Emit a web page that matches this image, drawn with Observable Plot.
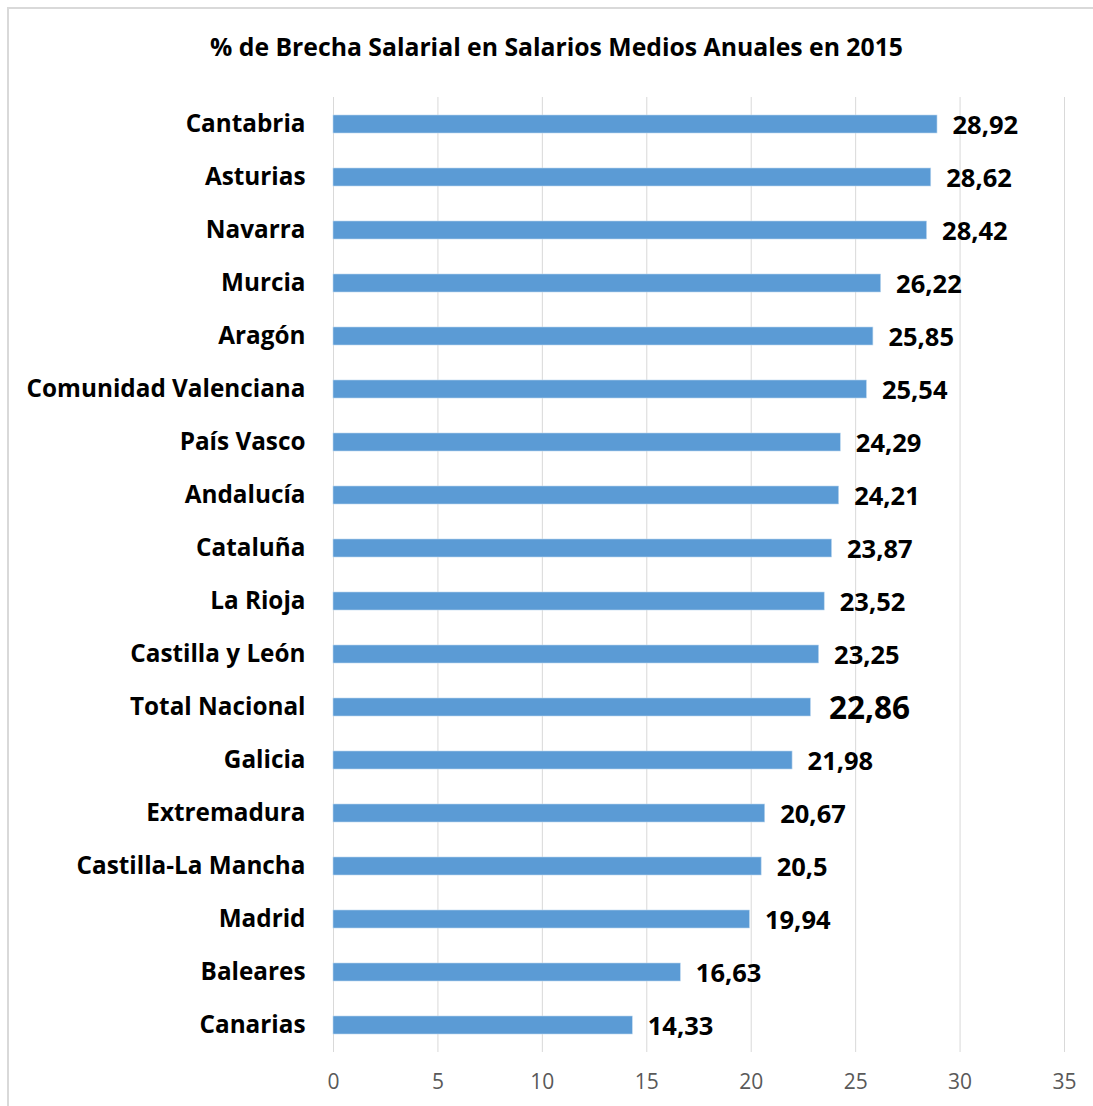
<!DOCTYPE html>
<html>
<head>
<meta charset="utf-8">
<script src="https://cdn.jsdelivr.net/npm/d3@7"></script>
<script src="https://cdn.jsdelivr.net/npm/@observablehq/plot@0.6"></script>
<style>
  html, body { margin: 0; padding: 0; background: #fff; overflow: hidden; }
  #wrap { position: relative; width: 1093px; height: 1106px; overflow: hidden; font-family: "Open Sans", Lato, sans-serif; }
  #frame { position: absolute; left: 7px; top: 7px; width: 1200px; height: 1200px; border: 2px solid #D9D9D9; box-sizing: border-box; }
  #title { position: absolute; left: 0; top: 0; width: 1113px; height: 80px; line-height: 94px; text-align: center; font-size: 24.75px; font-weight: bold; color: #000; }
  #chart { position: absolute; left: 0; top: 80px; }
</style>
</head>
<body>
<div id="wrap">
  <div id="frame"></div>
  <div id="title">% de Brecha Salarial en Salarios Medios Anuales en 2015</div>
  <div id="chart"></div>
</div>
<script>
const regions = ["Cantabria","Asturias","Navarra","Murcia","Aragón","Comunidad Valenciana","País Vasco","Andalucía","Cataluña","La Rioja","Castilla y León","Total Nacional","Galicia","Extremadura","Castilla-La Mancha","Madrid","Baleares","Canarias"];
const values = [28.92,28.62,28.42,26.22,25.85,25.54,24.29,24.21,23.87,23.52,23.25,22.86,21.98,20.67,20.5,19.94,16.63,14.33];
const xTicks = [0,5,10,15,20,25,30,35];
const highlight = "Total Nacional";

const data = regions.map((r, i) => ({region: r, value: values[i], label: String(values[i]).replace(".", ",")}));
const normal = data.filter(d => d.region !== highlight);
const special = data.filter(d => d.region === highlight);

const plot = Plot.plot({
  width: 1093,
  height: 1026,
  marginLeft: 333,
  marginRight: 29,
  marginTop: 17,
  marginBottom: 54,
  style: { fontFamily: "'Open Sans', Lato, sans-serif", background: "transparent" },
  x: { domain: [0, 35], ticks: xTicks, label: null },
  y: { domain: regions, paddingInner: 0.66, paddingOuter: 0.33, label: null },
  marks: [
    Plot.gridX(xTicks, { stroke: "#D9D9D9", strokeOpacity: 1, strokeWidth: 1 }),
    Plot.barX(data, { x: "value", y: "region", fill: "#5B9BD5", stroke: "#BDD7EE", strokeWidth: 0.6 }),
    Plot.text(normal, { x: "value", y: "region", text: "label", textAnchor: "start", dx: 15, dy: 1, fontSize: 25.5, fontWeight: "bold", fill: "#000" }),
    Plot.text(special, { x: "value", y: "region", text: "label", textAnchor: "start", dx: 18, dy: 1, fontSize: 31.5, fontWeight: "bold", fill: "#000" }),
    Plot.axisX({ ticks: xTicks, tickSize: 0, tickPadding: 21.5, fontSize: 21, fill: "#595959", label: null }),
    Plot.axisY({ tickSize: 0, tickPadding: 28, fontSize: 24.3, fontWeight: "bold", fill: "#000", label: null })
  ]
});
document.getElementById("chart").appendChild(plot);
</script>
</body>
</html>
